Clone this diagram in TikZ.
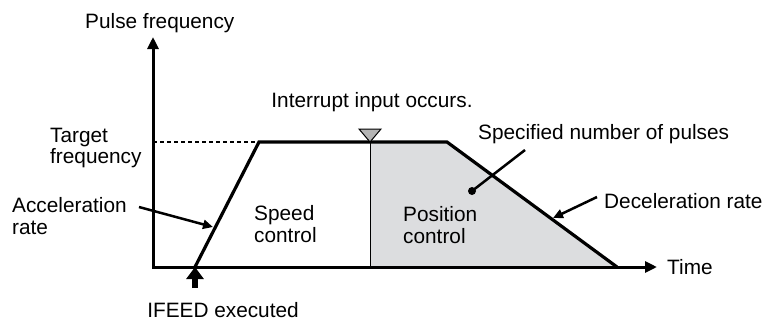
\documentclass[tikz,border=0pt]{standalone}
\usepackage{fontspec}
\setmainfont{Liberation Sans}
\usetikzlibrary{arrows.meta}
\definecolor{areagray}{HTML}{DCDDDF}
\definecolor{markgray}{HTML}{B4B4B4}
\begin{document}
\begin{tikzpicture}[x=1pt,y=-1pt,
every node/.style={font=\fontsize{20.8}{21.5}\selectfont,inner sep=0pt,align=left},
axis/.style={line width=3pt,{Triangle[length=12pt,width=11pt]}-{Triangle[length=12pt,width=11pt]}},
profile/.style={line width=3.2pt,line join=miter},
pointer/.style={line width=2.5pt,-{Triangle[length=10pt,width=9pt]}}
]
\useasboundingbox (0,0) rectangle (768,322);
% corners of the profile
\coordinate (o) at (153,267);
\coordinate (ytip) at (153,37);
\coordinate (xtip) at (657,267);
\coordinate (start) at (195,267);
\coordinate (reach) at (259,142);
\coordinate (irq) at (370,142);
\coordinate (irqbase) at (370,267);
\coordinate (brake) at (447,142);
\coordinate (stop) at (617,267);
\coordinate (tgt) at (153,142);
% position control area
\fill[areagray] (irq) -- (brake) -- (stop) -- (irqbase) -- cycle;
\draw[line width=1pt] (irq) -- (irqbase);
\draw[line width=1.2pt,dash pattern=on 4pt off 3pt] (tgt) -- (reach);
\draw[profile] (start) -- (reach) -- (brake) -- (stop);
\draw[axis] (ytip) |- (xtip);
\draw[fill=markgray,line width=1pt,line join=miter] (irq) -- ++(-11,-13) -- ++(22,0) -- cycle;
% labels (two-line labels sit on their last line)
\node[anchor=base west] (ylab) at (85,28) {Pulse frequency};
\node[anchor=base west] (xlab) at (667,274) {Time};
\node[anchor=base] (irqlab) at (372,107) {Interrupt input occurs.};
\node[anchor=base west] (tgtlab) at (50,163.5) {Target\\frequency};
\node[anchor=base west] (acclab) at (12,234) {Acceleration\\rate};
\node[anchor=base west] (spdlab) at (254,242) {Speed\\control};
\node[anchor=base west] (poslab) at (403,243) {Position\\control};
\node[anchor=base west] (pulselab) at (478,139) {Specified number of pulses};
\node[anchor=base west] (declab) at (604,208) {Deceleration rate};
\node[anchor=base] (feedlab) at (223,317) {IFEED executed};
% pointers
\coordinate (acctail) at (139,207);
\coordinate (acchead) at (213,227);
\coordinate (dectail) at (597,197);
\coordinate (dechead) at (553,218);
\coordinate (pulsetail) at (525,150);
\coordinate (pulsedot) at (472,191);
\coordinate (feedtail) at (195,288);
\draw[pointer] (acctail) -- (acchead);
\draw[pointer] (dectail) -- (dechead);
\draw[line width=2.5pt] (pulsetail) -- (pulsedot);
\fill (pulsedot) circle (4pt);
\draw[line width=6pt,-{Triangle[length=12pt,width=17pt]}] (feedtail) -- (start);
\end{tikzpicture}
\end{document}
